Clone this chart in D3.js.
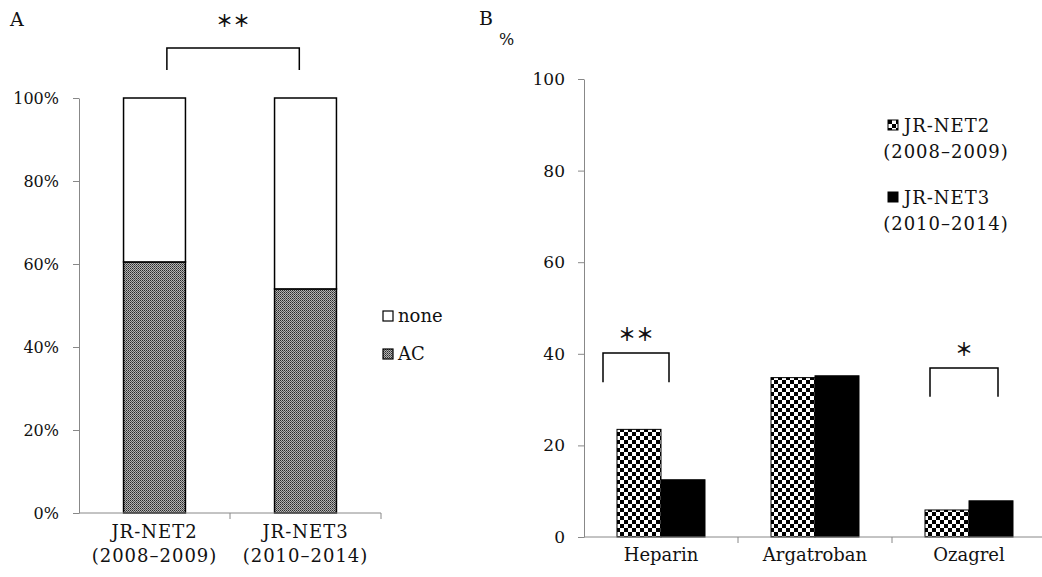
<!DOCTYPE html>
<html>
<head>
<meta charset="utf-8">
<script src="https://cdn.jsdelivr.net/npm/d3@7"></script>
<style>
  body { margin: 0; background: #fff; }
  text { font-family: "DejaVu Serif", "Liberation Serif", serif; fill: #111; }
  .lbl { letter-spacing: 1px; }
  .star { font-family: "Noto Sans CJK JP", "DejaVu Sans", sans-serif; font-weight: bold; }
</style>
</head>
<body>
<div id="chart"></div>
<script>
// panel A: share of patients with anticoagulation (AC) per registry
const cohorts = ['JR-NET2', 'JR-NET3'];
const periods = ['(2008\u20132009)', '(2010\u20132014)'];
const acShare = [60.5, 54.0];
const yTicksA = [0, 20, 40, 60, 80, 100];

// panel B: drug use, %
const drugs = ['Heparin', 'Argatroban', 'Ozagrel'];
const net2 = [23.5, 34.8, 5.9];
const net3 = [12.5, 35.2, 7.9];
const yTicksB = [0, 20, 40, 60, 80, 100];

const width = 1042, height = 577;

const svg = d3.select('#chart').append('svg')
    .attr('width', width)
    .attr('height', height);

const defs = svg.append('defs');

// fine dither for AC
const fine = defs.append('pattern')
    .attr('id', 'fine')
    .attr('width', 2).attr('height', 2)
    .attr('patternUnits', 'userSpaceOnUse');
fine.append('rect').attr('width', 2).attr('height', 2).attr('fill', '#b4b4b4');
fine.append('rect').attr('width', 1).attr('height', 1).attr('fill', '#2a2a2a');
fine.append('rect').attr('x', 1).attr('y', 1).attr('width', 1).attr('height', 1).attr('fill', '#555');

// coarse checker for JR-NET2
const checker = defs.append('pattern')
    .attr('id', 'checker')
    .attr('width', 8).attr('height', 8)
    .attr('patternUnits', 'userSpaceOnUse');
checker.append('rect').attr('width', 8).attr('height', 8).attr('fill', '#fff');
checker.append('rect').attr('width', 4).attr('height', 4).attr('fill', '#000');
checker.append('rect').attr('x', 4).attr('y', 4).attr('width', 4).attr('height', 4).attr('fill', '#000');

// ---------- panel A ----------
const xA = d3.scaleBand()
    .domain(cohorts)
    .range([79, 381])
    .paddingInner(0.59)
    .paddingOuter(0.295);

const yA = d3.scaleLinear()
    .domain([0, 100])
    .range([513, 98]);

const stackA = d3.stack().keys(['ac', 'none'])(
  cohorts.map((c, i) => ({ cohort: c, ac: acShare[i], none: 100 - acShare[i] }))
);

const gA = svg.append('g');

gA.append('text').attr('x', 10).attr('y', 26).style('font-size', '19px').text('A');

const axisA = gA.append('g')
    .attr('transform', 'translate(79,0)')
    .call(d3.axisLeft(yA).tickValues(yTicksA).tickSize(6).tickSizeOuter(0).tickPadding(14)
      .tickFormat(d => d + '%'));
axisA.selectAll('path, line').attr('stroke', '#888');
axisA.selectAll('text').style('font-size', '16px').attr('fill', '#111')
    .style('font-family', '"DejaVu Serif", serif');

gA.selectAll('g.layer')
    .data(stackA)
  .enter().append('g')
    .attr('class', 'layer')
    .attr('fill', d => d.key === 'ac' ? 'url(#fine)' : '#fff')
  .selectAll('rect')
    .data(d => d)
  .enter().append('rect')
    .attr('x', d => xA(d.data.cohort))
    .attr('y', d => yA(d[1]))
    .attr('width', xA.bandwidth())
    .attr('height', d => yA(d[0]) - yA(d[1]))
    .attr('stroke', '#000')
    .attr('stroke-width', 1.5);

// x baseline with ticks at band boundaries
gA.append('line')
    .attr('x1', 79).attr('x2', 381)
    .attr('y1', yA(0)).attr('y2', yA(0))
    .attr('stroke', '#888');
const bA = [xA.range()[0], (xA(cohorts[0]) + xA(cohorts[1]) + xA.bandwidth()) / 2, xA.range()[1]];
gA.selectAll('line.xt')
    .data(bA.slice(1))
  .enter().append('line')
    .attr('class', 'xt')
    .attr('x1', d => d).attr('x2', d => d)
    .attr('y1', yA(0)).attr('y2', yA(0) + 6)
    .attr('stroke', '#888');

gA.selectAll('text.cat')
    .data(cohorts)
  .enter().append('text')
    .attr('class', 'cat lbl')
    .attr('x', d => xA(d) + xA.bandwidth() / 2)
    .attr('y', 538)
    .attr('text-anchor', 'middle')
    .style('font-size', '18px')
    .text(d => d);
gA.selectAll('text.per')
    .data(periods)
  .enter().append('text')
    .attr('class', 'per lbl')
    .attr('x', (d, i) => xA(cohorts[i]) + xA.bandwidth() / 2)
    .attr('y', 562)
    .attr('text-anchor', 'middle')
    .style('font-size', '18px')
    .text(d => d);

// significance bracket
const bxA = [xA(cohorts[0]) + xA.bandwidth() * 0.7, xA(cohorts[1]) + xA.bandwidth() * 0.4];
gA.append('path')
    .attr('d', `M${bxA[0]},70V48H${bxA[1]}V70`)
    .attr('fill', 'none').attr('stroke', '#000').attr('stroke-width', 1.5);
gA.append('text')
    .attr('class', 'star')
    .attr('x', (bxA[0] + bxA[1]) / 2).attr('y', 27)
    .attr('text-anchor', 'middle').style('font-size', '17px').text('\uFF0A\uFF0A');

// legend
const legA = gA.selectAll('g.leg')
    .data([{ k: 'none', f: '#fff' }, { k: 'AC', f: 'url(#fine)' }])
  .enter().append('g')
    .attr('transform', (d, i) => `translate(383,${311 + i * 38})`);
legA.append('rect').attr('width', 10).attr('height', 10)
    .attr('fill', d => d.f).attr('stroke', '#000').attr('stroke-width', 1.2);
legA.append('text').attr('x', 15).attr('y', 11).style('font-size', '18px').text(d => d.k);

// ---------- panel B ----------
const x0 = d3.scaleBand()
    .domain(drugs)
    .range([584, 1046]);

const x1 = d3.scaleBand()
    .domain(['net2', 'net3'])
    .range([0, x0.bandwidth()])
    .paddingOuter(0.75);

const yB = d3.scaleLinear()
    .domain([0, 100])
    .range([537, 79]);

const gB = svg.append('g');

gB.append('text').attr('x', 479).attr('y', 25).style('font-size', '19px').text('B');
gB.append('text').attr('x', 499).attr('y', 45).style('font-size', '16px').text('%');

const axisB = gB.append('g')
    .attr('transform', 'translate(584,0)')
    .call(d3.axisLeft(yB).tickValues(yTicksB).tickSize(6).tickSizeOuter(0).tickPadding(13));
axisB.selectAll('path, line').attr('stroke', '#888');
axisB.selectAll('text').style('font-size', '17px').attr('fill', '#111')
    .style('font-family', '"DejaVu Serif", serif');

const rowsB = drugs.map((d, i) => ({ drug: d, net2: net2[i], net3: net3[i] }));

gB.selectAll('g.grp')
    .data(rowsB)
  .enter().append('g')
    .attr('class', 'grp')
    .attr('transform', d => `translate(${x0(d.drug)},0)`)
  .selectAll('rect')
    .data(d => ['net2', 'net3'].map(k => ({ k, v: d[k] })))
  .enter().append('rect')
    .attr('x', d => x1(d.k))
    .attr('y', d => yB(d.v))
    .attr('width', x1.bandwidth())
    .attr('height', d => yB(0) - yB(d.v))
    .attr('fill', d => d.k === 'net2' ? 'url(#checker)' : '#000')
    .attr('stroke', '#000')
    .attr('stroke-width', 1);

gB.append('line')
    .attr('x1', 584).attr('x2', 1046)
    .attr('y1', yB(0)).attr('y2', yB(0))
    .attr('stroke', '#888');
gB.selectAll('line.xt')
    .data(drugs)
  .enter().append('line')
    .attr('class', 'xt')
    .attr('x1', d => x0(d) + x0.bandwidth()).attr('x2', d => x0(d) + x0.bandwidth())
    .attr('y1', yB(0)).attr('y2', yB(0) + 6)
    .attr('stroke', '#888');

gB.selectAll('text.cat')
    .data(drugs)
  .enter().append('text')
    .attr('class', 'cat')
    .attr('x', d => x0(d) + x1('net2') + x1.bandwidth())
    .attr('y', 561)
    .attr('text-anchor', 'middle')
    .style('font-size', '18px')
    .text(d => d);

// brackets: [drug, stars, left offset, right offset, top value, bottom value]
const bracketsB = [
  ['Heparin', '\uFF0A\uFF0A', 19, 85, 40.2, 33.8],
  ['Ozagrel', '\uFF0A', 38, 106, 36.9, 30.6]
];
bracketsB.forEach(b => {
  const l = x0(b[0]) + b[2], r = x0(b[0]) + b[3];
  gB.append('path')
      .attr('d', `M${l},${yB(b[5])}V${yB(b[4])}H${r}V${yB(b[5])}`)
      .attr('fill', 'none').attr('stroke', '#000').attr('stroke-width', 1.5);
  gB.append('text')
      .attr('class', 'star')
      .attr('x', (l + r) / 2).attr('y', yB(b[4]) - 12)
      .attr('text-anchor', 'middle').style('font-size', '18px').text(b[1]);
});

// legend
const legB = gB.selectAll('g.leg')
    .data([
      { a: 'JR-NET2', b: '(2008\u20132009)', f: 'url(#checker)' },
      { a: 'JR-NET3', b: '(2010\u20132014)', f: '#000' }
    ])
  .enter().append('g')
    .attr('transform', (d, i) => `translate(888,${120 + i * 72})`);
legB.append('rect').attr('width', 10).attr('height', 10)
    .attr('fill', d => d.f).attr('stroke', '#000').attr('stroke-width', 1);
legB.append('text').attr('class', 'lbl').attr('x', 16).attr('y', 12).style('font-size', '18px').text(d => d.a);
legB.append('text').attr('class', 'lbl').attr('x', 58).attr('y', 38)
    .attr('text-anchor', 'middle').style('font-size', '18px').text(d => d.b);
</script>
</body>
</html>
